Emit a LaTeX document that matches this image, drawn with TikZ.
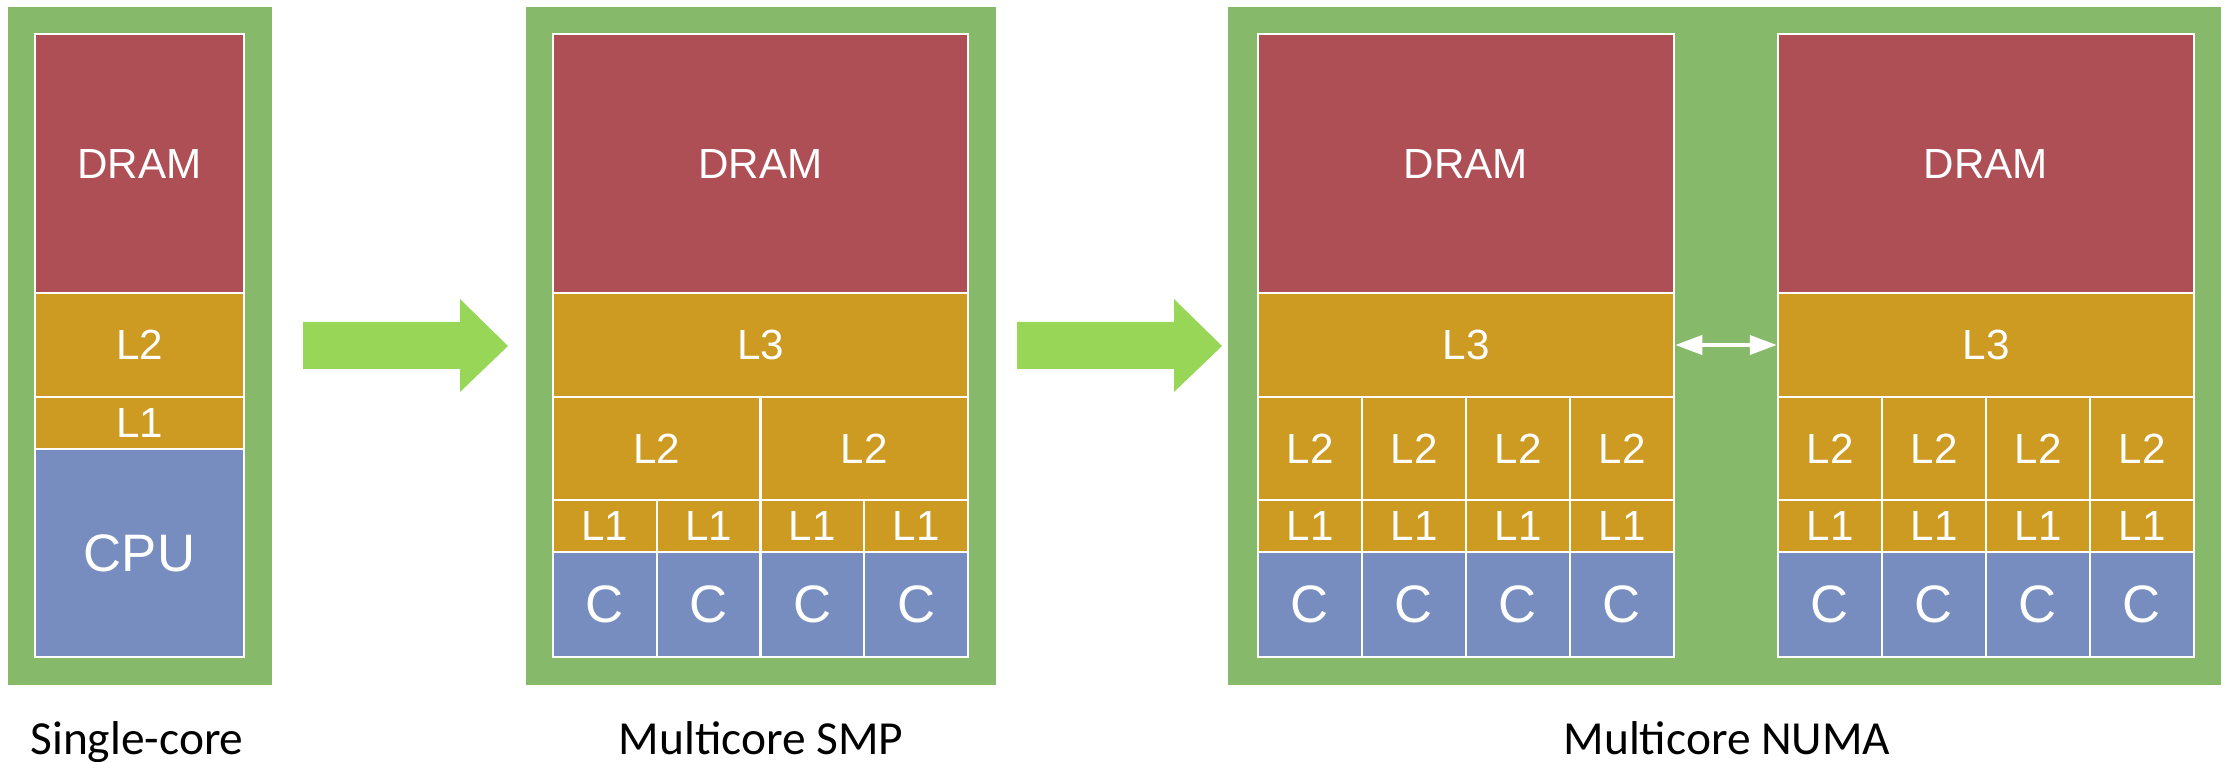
\documentclass[tikz,border=0pt]{standalone}
\usepackage{fontspec}
\setmainfont{Carlito}
\newfontfamily\helv{Liberation Sans}
\usetikzlibrary{arrows.meta}

\definecolor{boardgreen}{RGB}{134,185,106}
\definecolor{dramred}{RGB}{174,78,85}
\definecolor{cachegold}{RGB}{205,155,34}
\definecolor{coreblue}{RGB}{120,141,191}
\definecolor{arrowgreen}{RGB}{151,214,86}

\tikzset{
  cell/.style={rectangle, draw=white, line width=0.7pt, inner sep=0pt, text=white,
    font=\helv\fontsize{12}{14}\selectfont},
  bigcell/.style={cell, font=\helv\fontsize{15}{18}\selectfont},
  dims/.style 2 args={minimum width=#1*0.1mm, minimum height=#2*0.1mm},
  caption/.style={anchor=base, font=\fontsize{13.5}{16}\selectfont},
}

\begin{document}
\begin{tikzpicture}[x=0.1mm, y=-0.1mm]
      \useasboundingbox (0,0) rectangle (2230,762);

      % boards
      \fill[boardgreen] (8,7) rectangle (272,685);
      \fill[boardgreen] (526,7) rectangle (996,685);
      \fill[boardgreen] (1228,7) rectangle (2221,685);

      % single core
      \node[cell, fill=dramred, dims={209}{259}] (sdram) at (139.5,163.5) {DRAM};
      \node[cell, fill=cachegold, dims={209}{104}] (sl2) at (139.5,345) {L2};
      \node[cell, fill=cachegold, dims={209}{52}] (sl1) at (139.5,423) {L1};
      \node[bigcell, fill=coreblue, dims={209}{208}] (scpu) at (139.5,553) {CPU};

      % multicore SMP
      \node[cell, fill=dramred, dims={415}{259}] (smpdram) at (760.5,163.5) {DRAM};
      \node[cell, fill=cachegold, dims={415}{104}] (smpl3) at (760.5,345) {L3};
      \foreach \j in {0,1}
        \node[cell, fill=cachegold, dims={207.5}{103}] (smpl2\j) at (656.75+207.5*\j,448.5) {L2};
      \foreach \i in {0,...,3} {
        \node[cell, fill=cachegold, dims={103.75}{52}] (smpl1\i) at (604.875+103.75*\i,526) {L1};
        \node[bigcell, fill=coreblue, dims={103.75}{105}] (smpc\i) at (604.875+103.75*\i,604.5) {C};
      }

      % multicore NUMA, two sockets
      \foreach \s/\cx in {a/1466, b/1986} {
        \node[cell, fill=dramred, dims={416}{259}] (numadram\s) at (\cx,163.5) {DRAM};
        \node[cell, fill=cachegold, dims={416}{104}] (numal3\s) at (\cx,345) {L3};
        \foreach \i in {0,...,3} {
          \node[cell, fill=cachegold, dims={104}{103}] (numal2\s\i) at (\cx-156+104*\i,448.5) {L2};
          \node[cell, fill=cachegold, dims={104}{52}] (numal1\s\i) at (\cx-156+104*\i,526) {L1};
          \node[bigcell, fill=coreblue, dims={104}{105}] (numac\s\i) at (\cx-156+104*\i,604.5) {C};
        }
      }
      \draw[white, line width=1.1pt, {Triangle[length=2.7mm,width=1.9mm]}-{Triangle[length=2.7mm,width=1.9mm]}]
        (numal3a.east) -- (numal3b.west);

      % big arrows between the boards
      \foreach \dx in {0,714}
        \fill[arrowgreen] (303+\dx,322) -- (460+\dx,322) -- (460+\dx,299) -- (508+\dx,346)
          -- (460+\dx,392) -- (460+\dx,369) -- (303+\dx,369) -- cycle;

      % captions
      \node[caption] (capsingle) at (137,754) {Single-core};
      \node[caption] (capsmp) at (761,754) {Multicore SMP};
      \node[caption] (capnuma) at (1727,754) {Multicore NUMA};

    \end{tikzpicture}
\end{document}
